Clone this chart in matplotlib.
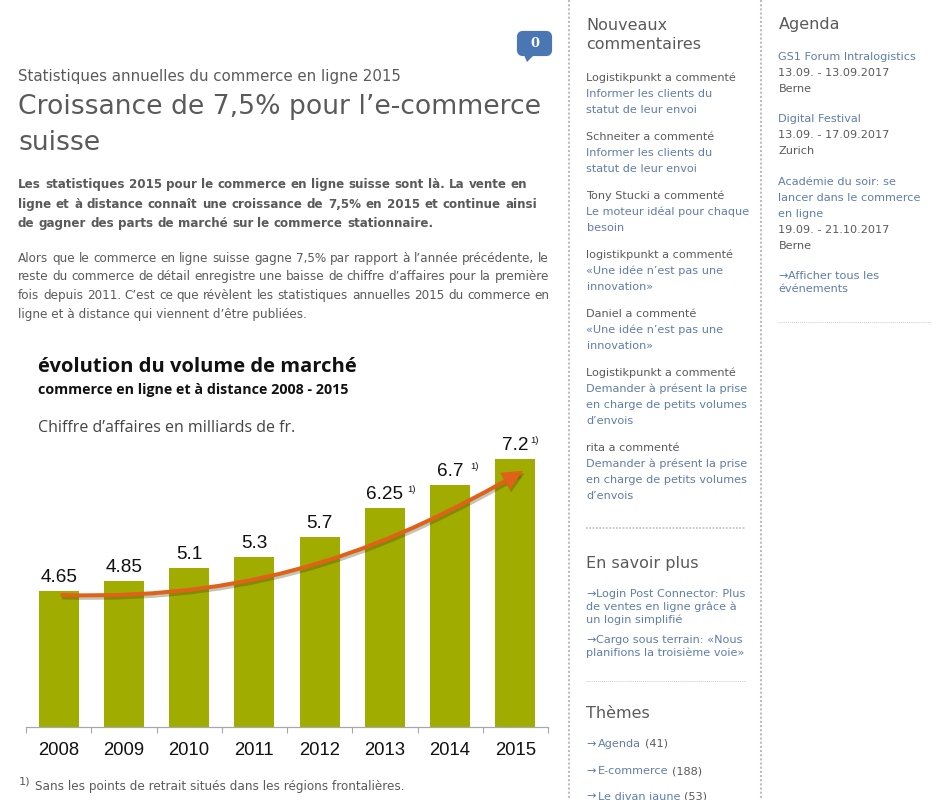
import matplotlib
matplotlib.use('Agg')
import matplotlib.pyplot as plt
from matplotlib.patches import FancyArrowPatch, FancyBboxPatch, Polygon
from matplotlib.path import Path
import matplotlib.patheffects as pe

years = ['2008', '2009', '2010', '2011', '2012', '2013', '2014', '2015']
values = [4.65, 4.85, 5.1, 5.3, 5.7, 6.25, 6.7, 7.2]
value_labels = ['4.65', '4.85', '5.1', '5.3', '5.7', '6.25', '6.7', '7.2']
footnoted = {5: 27, 6: 24, 7: 19}

# trend arrow, bezier control points in chart units
arrow_x = [0.03, 3.2, 5.2, 7.12]
arrow_y = [4.57, 4.45, 5.6, 6.98]

TEXT = '#5a5a5a'
LINK = '#5f7dab'
GREEN = '#a0ad00'
ORANGE = '#e0621a'
SANS = 'DejaVu Sans'
SIDE = 11.25

comments = [
    ('Logistikpunkt a commenté', ['Informer les clients du', 'statut de leur envoi'], 81),
    ('Schneiter a commenté', ['Informer les clients du', 'statut de leur envoi'], 140),
    ('Tony Stucki a commenté', ['Le moteur idéal pour chaque', 'besoin'], 199),
    ('logistikpunkt a commenté', ['«Une idée n’est pas une', 'innovation»'], 258),
    ('Daniel a commenté', ['«Une idée n’est pas une', 'innovation»'], 317),
    ('Logistikpunkt a commenté', ['Demander à présent la prise', 'en charge de petits volumes', 'd’envois'], 376),
    ('rita a commenté', ['Demander à présent la prise', 'en charge de petits volumes', 'd’envois'], 451),
]

fig = plt.figure(figsize=(9.5, 8), dpi=100, facecolor='white')

# whole page in pixel coordinates
page = fig.add_axes([0, 0, 1, 1])
page.set_xlim(0, 950)
page.set_ylim(800, 0)
page.axis('off')


def px(size):
    return size * 72 / 100


def put(x, y, s, size=12, color=TEXT, weight='normal', family=SANS, **kw):
    return page.text(x, y, s, fontsize=px(size), color=color, fontweight=weight,
                     family=family, va='baseline', ha='left', **kw)


def justified(x0, x1, y, line, size=12, color=TEXT, weight='normal'):
    # spreads the words so the line runs from x0 to x1
    words = line.split(' ')
    r = fig.canvas.get_renderer()
    items = [put(x0, y, w, size, color, weight) for w in words]
    widths = [t.get_window_extent(r).width for t in items]
    gap = (x1 - x0 - sum(widths)) / (len(words) - 1)
    x = x0
    for t, w in zip(items, widths):
        t.set_x(x)
        x += w + gap


# column rules
page.plot([569, 569], [0, 800], color='#bdbdbd', lw=1.5, ls=(0, (1, 1)))
page.plot([761, 761], [0, 800], color='#bdbdbd', lw=1.5, ls=(0, (1, 1)))
page.plot([586, 746], [528, 528], color='#bdbdbd', lw=1.2, ls=(0, (1, 1)))
page.plot([586, 746], [681, 681], color='#cccccc', lw=0.7, ls=(0, (1, 1)))
page.plot([778, 931], [322, 322], color='#cccccc', lw=0.7, ls=(0, (1, 1)))

# comment bubble
page.add_patch(FancyBboxPatch((519, 33), 31, 21, boxstyle='round,pad=0,rounding_size=4',
                              fc='#4a77b4', ec='#4a77b4', lw=3))
page.add_patch(Polygon([[524, 55], [534, 55], [527, 62]], fc='#4a77b4', ec='none'))
page.text(534.5, 43.5, '0', color='white', fontsize=px(13), fontweight='bold',
          family='DejaVu Serif', ha='center', va='center')

# article head
put(18, 81, 'Statistiques annuelles du commerce en ligne 2015', 15)
put(18, 114, 'Croissance de 7,5% pour l’e-commerce', 26.6)
put(18, 150, 'suisse', 26.6)

fig.canvas.draw()
justified(18, 527, 188, 'Les statistiques 2015 pour le commerce en ligne suisse sont là. La vente en', 11.9, weight='bold')
justified(18, 537, 208, 'ligne et à distance connaît une croissance de 7,5% en 2015 et continue ainsi', 11.9, weight='bold')
justified(18, 433, 227, 'de gagner des parts de marché sur le commerce stationnaire.', 11.9, weight='bold')
justified(18, 549, 262, 'Alors que le commerce en ligne suisse gagne 7,5% par rapport à l’année précédente, le')
justified(18, 549, 280, 'reste du commerce de détail enregistre une baisse de chiffre d’affaires pour la première')
justified(18, 549, 299, 'fois depuis 2011. C’est ce que révèlent les statistiques annuelles 2015 du commerce en')
put(18, 318, 'ligne et à distance qui viennent d’être publiées.')

# chart heading
put(37.5, 372, 'évolution du volume de marché', 20.2, '#111111', 'bold', 'Open Sans')
put(37.5, 394, 'commerce en ligne et à distance 2008 - 2015', 14.3, '#111111', 'bold', 'Open Sans')
put(38, 432, 'Chiffre d’affaires en milliards de fr.', 16, '#444444', 'normal', 'Open Sans')

# footnote
put(19, 785, '1)', 11.5)
put(35, 790, 'Sans les points de retrait situés dans les régions frontalières.', 12)

# sidebar, comments
put(586.5, 30, 'Nouveaux', 16)
put(586.5, 49, 'commentaires', 16)
for who, link, y in comments:
    put(586.5, y, who, SIDE)
    for i, l in enumerate(link):
        put(586.5, y + 16 * (i + 1), l, SIDE, LINK)

put(586.5, 568, 'En savoir plus', 16)
put(586, 597, '→', SIDE, LINK)
put(595.7, 597, 'Login Post Connector: Plus', SIDE, LINK)
put(586.5, 610, 'de ventes en ligne grâce à', SIDE, LINK)
put(586.5, 623, 'un login simplifié', SIDE, LINK)
put(586, 643, '→', SIDE, LINK)
put(595.7, 643, 'Cargo sous terrain: «Nous', SIDE, LINK)
put(586.5, 656, 'planifions la troisième voie»', SIDE, LINK)

put(586, 718, 'Thèmes', 16)
for y, name, count in [(747, 'Agenda', 41), (774, 'E-commerce', 188), (799.5, 'Le divan jaune', 53)]:
    put(586, y, '→', SIDE, LINK)
    t = put(597.7, y, name, SIDE, LINK)
    w = t.get_window_extent(fig.canvas.get_renderer()).width
    put(597.7 + w + 4, y, '(%d)' % count, SIDE)

# sidebar, agenda
put(778.5, 29, 'Agenda', 16)
put(778.5, 60, 'GS1 Forum Intralogistics', SIDE, LINK)
put(778.5, 76, '13.09. - 13.09.2017', SIDE)
put(778.5, 92, 'Berne', SIDE)
put(778.5, 122, 'Digital Festival', SIDE, LINK)
put(778.5, 138, '13.09. - 17.09.2017', SIDE)
put(778.5, 154, 'Zurich', SIDE)
put(778.5, 185, 'Académie du soir: se', SIDE, LINK)
put(778.5, 201, 'lancer dans le commerce', SIDE, LINK)
put(778.5, 217, 'en ligne', SIDE, LINK)
put(778.5, 233, '19.09. - 21.10.2017', SIDE)
put(778.5, 249, 'Berne', SIDE)
put(778, 279, '→', SIDE, LINK)
put(787.5, 279, 'Afficher tous les', SIDE, LINK)
put(778.5, 292, 'événements', SIDE, LINK)

# the bar chart itself
ax = fig.add_axes([26 / 950, (800 - 727.3) / 800, 522 / 950, 309 / 800])
ax.patch.set_alpha(0)
ax.bar(range(len(years)), values, width=0.615, color=GREEN)
ax.set_xlim(-0.5, 7.5)
ax.set_ylim(2, 8)
for s in ['top', 'left', 'right']:
    ax.spines[s].set_visible(False)
ax.spines['bottom'].set_color('#a8a8a8')
ax.spines['bottom'].set_linewidth(0.9)
ax.yaxis.set_visible(False)
ax.set_xticks(range(len(years)))
ax.set_xticklabels(years, family='Liberation Sans', fontsize=px(18.5), color='#111111')
ax.set_xticks([i - 0.5 for i in range(len(years) + 1)], minor=True)
ax.tick_params(axis='x', which='major', length=0, pad=px(15))
ax.tick_params(axis='x', which='minor', length=px(6), width=0.8, color='#a8a8a8')

for i, v in enumerate(values):
    ax.annotate(value_labels[i], (i, v), xytext=(0, px(9)), textcoords='offset points',
                ha='center', va='baseline', family='Liberation Sans', fontsize=px(19), color='#111111')
    if i in footnoted:
        ax.annotate('1)', (i, v), xytext=(px(footnoted[i]), px(16)), textcoords='offset points',
                    ha='center', va='baseline', family='Liberation Sans', fontsize=px(9.5), color='#111111')

curve = Path(list(zip(arrow_x, arrow_y)), [Path.MOVETO, Path.CURVE4, Path.CURVE4, Path.CURVE4])
trend = FancyArrowPatch(path=curve, arrowstyle='-|>,head_length=3.2,head_width=1.5', mutation_scale=3.2,
                        fc=ORANGE, ec=ORANGE, lw=2.9, capstyle='butt', joinstyle='miter',
                        transform=ax.transData, zorder=5,
                        path_effects=[pe.SimpleLineShadow(offset=(1, -1.8), shadow_color='#3d3d00', alpha=0.3),
                                      pe.Normal()])
ax.add_patch(trend)

fig.savefig('out.png', dpi=100)
